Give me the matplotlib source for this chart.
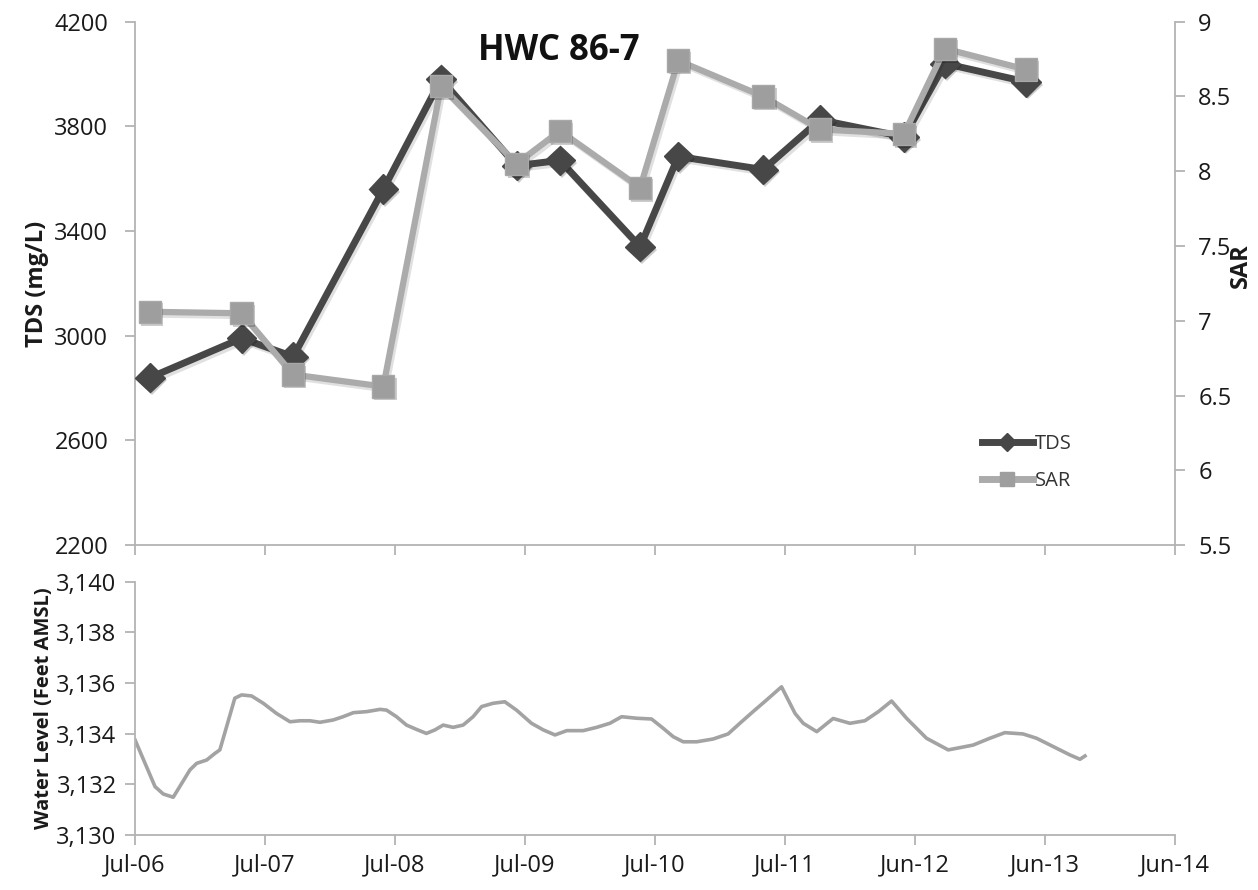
import matplotlib
matplotlib.use("Agg")
import matplotlib.pyplot as plt
import matplotlib.patheffects as pe
from matplotlib.lines import Line2D
import pandas as pd

plt.rcParams["font.family"] = ["Open Sans", "DejaVu Sans"]

# ---- water quality samples (well HWC 86-7) ----
sample_dates = ["2006-08-14", "2007-04-28", "2007-09-20", "2008-05-30", "2008-11-08",
                "2009-06-08", "2009-10-08", "2010-05-21", "2010-09-05", "2011-05-02",
                "2011-10-08", "2012-05-31", "2012-09-23", "2013-05-09"]
tds = [2840, 2990, 2920, 3560, 3980, 3650, 3670, 3340, 3685, 3635,
       3825, 3760, 4040, 3970]
sar = [7.06, 7.05, 6.64, 6.56, 8.57, 8.05, 8.27, 7.89, 8.74, 8.50,
       8.28, 8.25, 8.82, 8.68]

# ---- water level record (feet AMSL) ----
wl_dates = ["2006-07-03", "2006-07-31", "2006-08-28", "2006-09-20", "2006-10-18",
            "2006-11-11", "2006-12-04", "2006-12-23", "2007-01-20", "2007-02-12",
            "2007-02-26", "2007-03-17", "2007-04-09", "2007-04-28", "2007-05-26",
            "2007-06-28", "2007-08-04", "2007-09-11", "2007-10-09", "2007-11-06",
            "2007-12-04", "2008-01-10", "2008-02-07", "2008-03-07", "2008-04-13",
            "2008-05-21", "2008-06-08", "2008-07-06", "2008-08-03", "2008-08-31",
            "2008-09-28", "2008-10-22", "2008-11-14", "2008-12-12", "2009-01-09",
            "2009-02-06", "2009-03-02", "2009-04-03", "2009-05-06", "2009-06-08",
            "2009-07-20", "2009-08-22", "2009-09-24", "2009-10-27", "2009-12-12",
            "2010-01-19", "2010-02-25", "2010-03-30", "2010-05-11", "2010-06-22",
            "2010-07-25", "2010-08-22", "2010-09-19", "2010-10-27", "2010-12-12",
            "2011-01-23", "2011-02-25", "2011-04-03", "2011-05-11", "2011-06-22",
            "2011-07-30", "2011-08-22", "2011-09-29", "2011-11-14", "2011-12-31",
            "2012-02-11", "2012-03-20", "2012-04-26", "2012-06-07", "2012-08-02",
            "2012-10-02", "2012-12-11", "2013-01-27", "2013-03-10", "2013-04-30",
            "2013-06-07", "2013-07-24", "2013-09-09", "2013-10-07", "2013-10-21"]
water_level = [3133.75, 3132.83, 3131.91, 3131.62, 3131.49,
               3132.04, 3132.57, 3132.83, 3132.96, 3133.22,
               3133.36, 3134.28, 3135.40, 3135.53, 3135.49,
               3135.20, 3134.80, 3134.47, 3134.51, 3134.51,
               3134.45, 3134.54, 3134.67, 3134.83, 3134.87,
               3134.96, 3134.93, 3134.67, 3134.34, 3134.17,
               3134.01, 3134.15, 3134.34, 3134.25, 3134.34,
               3134.67, 3135.07, 3135.20, 3135.26, 3134.93,
               3134.41, 3134.15, 3133.95, 3134.12, 3134.12,
               3134.25, 3134.41, 3134.67, 3134.61, 3134.58,
               3134.21, 3133.88, 3133.68, 3133.68, 3133.79,
               3133.99, 3134.41, 3134.87, 3135.33, 3135.85,
               3134.80, 3134.41, 3134.08, 3134.60, 3134.41,
               3134.51, 3134.87, 3135.29, 3134.61, 3133.82,
               3133.36, 3133.55, 3133.82, 3134.04, 3133.99,
               3133.82, 3133.49, 3133.16, 3132.99, 3133.12]

# ---- axis ticks ----
tick_dates = ["2006-07-02", "2007-07-02", "2008-07-01", "2009-07-01", "2010-07-01",
              "2011-07-01", "2012-06-30", "2013-06-30", "2014-06-30"]
tick_labels = ["Jul-06", "Jul-07", "Jul-08", "Jul-09", "Jul-10",
               "Jul-11", "Jun-12", "Jun-13", "Jun-14"]
tds_ticks = [2200, 2600, 3000, 3400, 3800, 4200]
sar_ticks = [5.5, 6, 6.5, 7, 7.5, 8, 8.5, 9]
sar_tick_labels = ["5.5", "6", "6.5", "7", "7.5", "8", "8.5", "9"]
wl_ticks = [3130, 3132, 3134, 3136, 3138, 3140]
wl_tick_labels = ["3,130", "3,132", "3,134", "3,136", "3,138", "3,140"]

s_dates = pd.to_datetime(sample_dates)
w_dates = pd.to_datetime(wl_dates)
t_dates = pd.to_datetime(tick_dates)
xlim = (t_dates[0], t_dates[-1])

TDS_C = "#474747"
SAR_C = "#ababab"
SAR_M = "#9e9e9e"
WL_C = "#a3a3a3"
AX_C = "#b3b3b3"
TXT = "#1a1a1a"
TICK_FS = 17

line_shadow = [pe.SimpleLineShadow(offset=(1.5, -2), shadow_color="k", alpha=0.12), pe.Normal()]
mark_shadow = [pe.SimplePatchShadow(offset=(1.5, -2), shadow_rgbFace="k", alpha=0.2), pe.Normal()]

fig = plt.figure(figsize=(12.58, 8.90), dpi=100)
ax1 = fig.add_axes([0.1071, 0.3876, 0.8267, 0.5880])
ax2 = ax1.twinx()
ax3 = fig.add_axes([0.1071, 0.0618, 0.8267, 0.2846])

# TDS on the left axis
ax1.plot(s_dates, tds, color=TDS_C, lw=5, solid_joinstyle="miter",
         path_effects=line_shadow, zorder=2)
ax1.plot(s_dates, tds, ls="none", marker="D", ms=15, color=TDS_C,
         markeredgecolor=TDS_C, path_effects=mark_shadow, zorder=3)

# SAR on the right axis
ax2.plot(s_dates, sar, color=SAR_C, lw=4.5, solid_joinstyle="miter",
         path_effects=line_shadow, zorder=2)
ax2.plot(s_dates, sar, ls="none", marker="s", ms=16, color=SAR_M,
         markeredgecolor="#a8a8a8", path_effects=mark_shadow, zorder=3)

ax1.set_ylim(2200, 4200)
ax1.set_yticks(tds_ticks)
ax2.set_ylim(5.5, 9)
ax2.set_yticks(sar_ticks)
ax2.set_yticklabels(sar_tick_labels)

for ax in (ax1, ax2, ax3):
    ax.set_xlim(*xlim)
    ax.set_xticks(t_dates)
    for s in ax.spines.values():
        s.set_color(AX_C)
        s.set_linewidth(1.3)
    ax.spines["top"].set_visible(False)
    ax.tick_params(colors=AX_C, labelcolor=TXT, labelsize=TICK_FS,
                   length=7, width=1.3, direction="out")
    ax.patch.set_visible(False)

ax1.spines["right"].set_visible(False)
ax2.spines["left"].set_visible(False)
ax2.spines["bottom"].set_visible(False)
ax3.spines["right"].set_visible(False)

ax1.set_xticklabels([])
ax2.tick_params(axis="x", bottom=False, labelbottom=False)
ax1.tick_params(axis="y", pad=12)
ax2.tick_params(axis="y", pad=10)

ax1.set_ylabel("TDS (mg/L)", fontsize=17, fontweight="bold", color=TXT, labelpad=4)
# right-hand axis title sits close to the tick labels
fig.text(1241 / 1258, 1 - 266 / 890, "SAR", rotation=90, ha="center", va="center",
         fontsize=17, fontweight="bold", color=TXT)

# Water level panel
ax3.plot(w_dates, water_level, color=WL_C, lw=2.6)
ax3.set_ylim(3130, 3140)
ax3.set_yticks(wl_ticks)
ax3.set_yticklabels(wl_tick_labels)
ax3.set_xticklabels(tick_labels)
ax3.tick_params(axis="y", pad=6)
ax3.tick_params(axis="x", pad=6)
ax3.set_ylabel("Water Level (Feet AMSL)", fontsize=14.5, fontweight="bold",
               color=TXT, labelpad=2)

fig.text(0.444, 0.943, "HWC 86-7", ha="center", va="center",
         fontsize=25, fontweight="bold", color="#111111")

handles = [Line2D([], [], color=TDS_C, lw=5, marker="D", ms=9),
           Line2D([], [], color=SAR_C, lw=5, marker="s", ms=10, markerfacecolor=SAR_M,
                  markeredgecolor=SAR_M)]
ax2.legend(handles, ["TDS", "SAR"], loc="upper left", bbox_to_anchor=(0.815, 0.212),
           frameon=False, fontsize=14.5, handlelength=2.5, handletextpad=0.1,
           labelspacing=0.85, borderpad=0, borderaxespad=0, labelcolor="#333333")

fig.savefig("out.png", dpi=100, facecolor="white")
